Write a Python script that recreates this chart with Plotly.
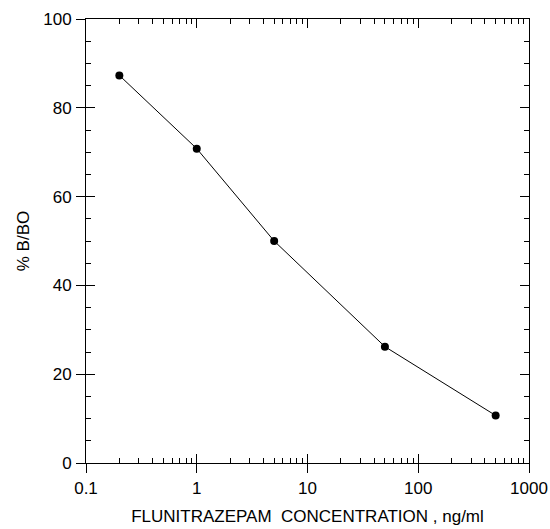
import plotly.graph_objects as go

# Data
concentration = [0.2, 1, 5, 50, 500]
pct_b_bo = [87.3, 70.8, 50.0, 26.2, 10.7]

x_major = [0.1, 1, 10, 100, 1000]
x_major_labels = ["0.1", "1", "10", "100", "1000"]
x_minor = [m * d for d in [0.1, 1, 10, 100] for m in range(2, 10)]
y_major = [0, 20, 40, 60, 80, 100]
y_minor = [v for v in range(0, 101, 5) if v % 20 != 0]

FONT = "Liberation Sans, Arial, sans-serif"

fig = go.Figure()
fig.add_trace(go.Scatter(
    x=concentration, y=pct_b_bo, mode="lines+markers",
    line=dict(color="black", width=1),
    marker=dict(color="black", size=8),
    showlegend=False, hoverinfo="skip",
))
# invisible helper trace for the overlay axes (outside halves of major ticks)
fig.add_trace(go.Scatter(
    x=concentration, y=pct_b_bo, mode="lines", xaxis="x2", yaxis="y2",
    line=dict(color="rgba(0,0,0,0)", width=0), showlegend=False, hoverinfo="skip",
))

fig.update_layout(
    width=550, height=529,
    margin=dict(l=86, r=21, t=19, b=66, autoexpand=False),
    paper_bgcolor="white", plot_bgcolor="white",
    font=dict(family=FONT, size=17, color="black"),
    xaxis=dict(
        type="log", range=[-1, 3], automargin=False,
        tickmode="array", tickvals=x_major, ticktext=x_major_labels,
        ticks="inside", ticklen=9, tickwidth=1, tickcolor="black",
        minor=dict(tickmode="array", tickvals=x_minor, ticks="inside",
                   ticklen=5, tickwidth=1, tickcolor="black", showgrid=False),
        showline=True, linecolor="black", linewidth=1, mirror="ticks",
        showgrid=False, zeroline=False,
        tickfont=dict(size=17),
        ticklabelstandoff=10,
        title=dict(text="FLUNITRAZEPAM\u00a0\u00a0CONCENTRATION , ng/ml",
                   font=dict(size=17), standoff=12),
    ),
    yaxis=dict(
        range=[0, 100], automargin=False,
        tickmode="array", tickvals=y_major,
        ticks="inside", ticklen=9, tickwidth=1, tickcolor="black",
        minor=dict(tickmode="array", tickvals=y_minor, ticks="inside",
                   ticklen=5, tickwidth=1, tickcolor="black", showgrid=False),
        showline=True, linecolor="black", linewidth=1, mirror="ticks",
        showgrid=False, zeroline=False,
        tickfont=dict(size=17),
        ticklabelstandoff=10,
        title=dict(text="% B/BO", font=dict(size=17), standoff=9),
    ),
    xaxis2=dict(
        type="log", range=[-1, 3], overlaying="x", side="bottom", anchor="y2",
        automargin=False,
        tickmode="array", tickvals=x_major,
        ticks="outside", ticklen=9, tickwidth=1, tickcolor="black",
        showticklabels=False, showline=False, showgrid=False, zeroline=False,
    ),
    yaxis2=dict(
        range=[0, 100], overlaying="y", side="left", anchor="x2",
        automargin=False,
        tickmode="array", tickvals=y_major,
        ticks="outside", ticklen=9, tickwidth=1, tickcolor="black",
        showticklabels=False, showline=False, showgrid=False, zeroline=False,
    ),
)

fig.write_html("out.html", post_script="document.body.style.margin='0';",
               config={"displayModeBar": False})
